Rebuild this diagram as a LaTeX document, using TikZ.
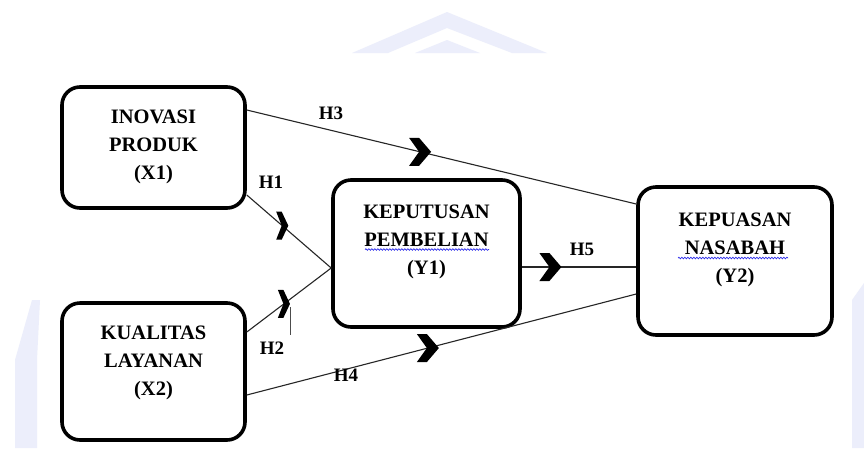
\documentclass[tikz,border=0pt]{standalone}
\usepackage{fontspec}
\setmainfont{Liberation Serif}
\usetikzlibrary{positioning,calc,decorations.pathmorphing}

\definecolor{wmark}{RGB}{236,238,251}
\definecolor{spellblue}{RGB}{45,45,235}

\tikzset{
  varbox/.style={draw, line width=3.6pt, rounded corners=18pt, inner sep=0pt},
  varlbl/.style={font=\fontsize{20.5}{28}\selectfont\bfseries, align=center},
  hyp/.style={font=\fontsize{19}{20}\selectfont\bfseries},
  link/.style={line width=1.1pt, black!85},
  chev/.pic={\fill (-11,-14) -- (-1,-14) -- (11,0) -- (-1,14) -- (-11,14) -- (-1,0) -- cycle;},
  squiggle/.style={spellblue, line width=0.7pt, decorate,
    decoration={snake, amplitude=0.8pt, segment length=3pt}}
}

\begin{document}
\begin{tikzpicture}[x=1pt,y=-1pt]
        \useasboundingbox (0,0) rectangle (864,448);
        \fill[white] (0,0) rectangle (864,448);

        % watermark
        \fill[wmark] (352,53) -- (447,12) -- (547,53) -- (512,53) -- (447,28) -- (388,53) -- cycle;
        \fill[wmark] (415,53) -- (447,40) -- (480,53) -- cycle;
        \fill[wmark] (15,448) -- (15,360) -- (32,300) -- (40,300) -- (37,360) -- (37,448) -- cycle;
        \fill[wmark] (852,448) -- (852,300) -- (864,283) -- (864,448) -- cycle;

        % variables
        \node[varbox, minimum width=183pt, minimum height=121pt] (x1) at (153.5,147.5) {};
        \node[varbox, minimum width=183pt, minimum height=137pt] (x2) at (153.5,371.5) {};
        \node[varbox, minimum width=187pt, minimum height=147pt] (y1) at (426.5,253.5) {};
        \node[varbox, minimum width=194pt, minimum height=148pt] (y2) at (735,261) {};

        \node[varlbl] (x1t) at ([yshift=-62pt]x1.north) {INOVASI\\PRODUK\\(X1)};
        \node[varlbl] (x2t) at ([yshift=-62pt]x2.north) {KUALITAS\\LAYANAN\\(X2)};
        \node[varlbl] (y1t) at ([yshift=-63.5pt]y1.north) {KEPUTUSAN\\PEMBELIAN\\(Y1)};
        \node[varlbl] (y2t) at ([yshift=-65pt]y2.north) {KEPUASAN\\NASABAH\\(Y2)};

        \draw[squiggle] (365,249.5) -- (489,249.5);
        \draw[squiggle] (678,258) -- (788,258);

        % paths
        \coordinate (y1in) at ([yshift=-14.5pt]y1.west);
        \coordinate (y1out) at ([yshift=-13.5pt]y1.east);

        \draw[link] ([yshift=-47.5pt]x1.east) -- coordinate[pos=.42] (c1) (y1in);
        \draw[link] ([yshift=39.5pt]x2.east) -- coordinate[pos=.44] (c2) (y1in);
        \draw[link] ([yshift=37.5pt]x1.east) -- coordinate[pos=.445] (c3) ([yshift=57pt]y2.west);
        \draw[link] ([yshift=-23.5pt]x2.east) -- coordinate[pos=.465] (c4) ([yshift=-33pt]y2.west);
        \draw[link] (y1out) -- coordinate[pos=.25] (c5) (y1out -| y2.west);

        \pic[xscale=.55] at (c1) {chev};
        \pic[xscale=.55] at (c2) {chev};
        \pic at (c3) {chev};
        \pic at (c4) {chev};
        \pic at (c5) {chev};
        \draw[line width=.6pt, black!70] ([xshift=6pt,yshift=-3pt]c2) -- ++(0,28);

        \node[hyp] (h1) at (271,182) {H1};
        \node[hyp] (h2) at (272,348) {H2};
        \node[hyp] (h3) at (331,113) {H3};
        \node[hyp] (h4) at (346,375) {H4};
        \node[hyp] (h5) at (582,249) {H5};

    \end{tikzpicture}
\end{document}
